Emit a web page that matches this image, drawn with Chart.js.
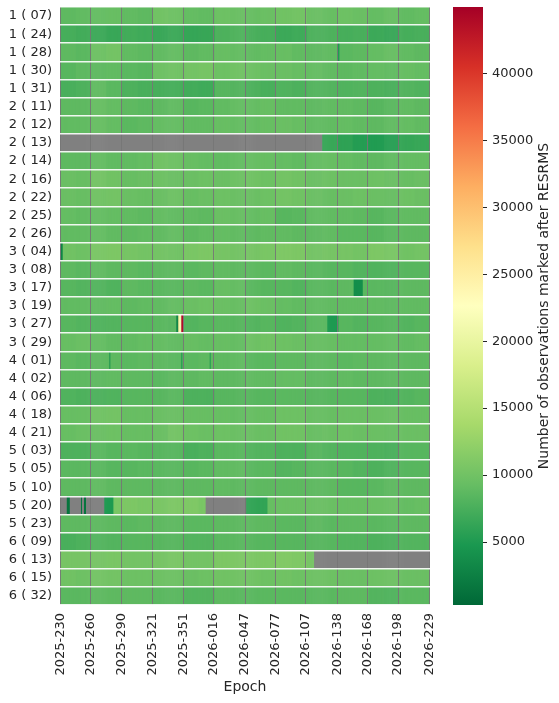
<!DOCTYPE html>
<html>
<head>
<meta charset="utf-8">
<script src="https://cdn.jsdelivr.net/npm/chart.js@4.4.1/dist/chart.umd.min.js"></script>
<style>
  html, body { margin: 0; padding: 0; background: #fff; }
  #wrap { position: relative; width: 559px; height: 703px; }
  #heat { position: absolute; left: 0; top: 0; }
  #bar { position: absolute; left: 440px; top: 0; }
</style>
</head>
<body>
<div id="wrap">
  <canvas id="heat" width="440" height="703"></canvas>
  <canvas id="bar" width="119" height="703"></canvas>
</div>
<script>
const satellites = [
    '1 ( 07)', '1 ( 24)', '1 ( 28)', '1 ( 30)', '1 ( 31)',
    '2 ( 11)', '2 ( 12)', '2 ( 13)', '2 ( 14)', '2 ( 16)', '2 ( 22)', '2 ( 25)', '2 ( 26)',
    '3 ( 04)', '3 ( 08)', '3 ( 17)', '3 ( 19)', '3 ( 27)', '3 ( 29)',
    '4 ( 01)', '4 ( 02)', '4 ( 06)', '4 ( 18)', '4 ( 21)',
    '5 ( 03)', '5 ( 05)', '5 ( 10)', '5 ( 20)', '5 ( 23)',
    '6 ( 09)', '6 ( 13)', '6 ( 15)', '6 ( 32)'
];
const dayCount = 365; // 2025-230 .. 2026-229
const epochTickDays = [0, 30, 60, 91, 121, 151, 182, 212, 242, 273, 303, 333, 364];
const epochTickLabels = ['2025-230', '2025-260', '2025-290', '2025-321', '2025-351', '2026-016',
    '2026-047', '2026-077', '2026-107', '2026-138', '2026-168', '2026-198', '2026-229'];
const colorbarMin = 300;
const colorbarMax = 44950;
const colorbarTicks = [5000, 10000, 15000, 20000, 25000, 30000, 35000, 40000];
const colorbarLabel = 'Number of observations marked after RESRMS';

// observations per day, read as one level per ~15 day block (24 blocks per satellite)
const blockLevels = [
    [8800, 9000, 9200, 9400, 9000, 8800, 10000, 9800, 9200, 9000, 9800, 9600, 9400, 9600, 10000, 10200, 9600, 9400, 9800, 9600, 9200, 9400, 9000, 9200], // 1(07)
    [7400, 7200, 6800, 6600, 7200, 7000, 6600, 6800, 6400, 6500, 7800, 8000, 7600, 7400, 6800, 7000, 7800, 7800, 7400, 7600, 6800, 6600, 7400, 7600], // 1(24)
    [8800, 8600, 9800, 10200, 9000, 8800, 9000, 9200, 8800, 9000, 9400, 9200, 9000, 9200, 9400, 9000, 8800, 9000, 8600, 8800, 9200, 9400, 9000, 8800], // 1(28)
    [8400, 8800, 8800, 9000, 8600, 8400, 9800, 10000, 10200, 10400, 9800, 10000, 9800, 9600, 9600, 9400, 9200, 9000, 8800, 9000, 9200, 9000, 9400, 9200], // 1(30)
    [7600, 7800, 9000, 8600, 7800, 7600, 7400, 7400, 7200, 7000, 8400, 8200, 7800, 7600, 8000, 7800, 8200, 8200, 8000, 8200, 7800, 7600, 8200, 8000], // 1(31)
    [8800, 8800, 9400, 9200, 8800, 8600, 8800, 9000, 8400, 8600, 9000, 9200, 9200, 9400, 9000, 9000, 8800, 9000, 9000, 8800, 8400, 8600, 9000, 8800], // 2(11)
    [9000, 9000, 9400, 9200, 8600, 8800, 9200, 9200, 9000, 9000, 9400, 9200, 9200, 9400, 9600, 9400, 9000, 9000, 9200, 9000, 8800, 9000, 9200, 9000], // 2(12)
    [null, null, null, null, null, null, null, null, null, null, null, null, null, null, null, null, null, 6600, 6000, 5400, 5200, 5600, 6400, 6600], // 2(13)
    [8800, 8800, 9200, 9000, 9000, 9200, 10000, 9800, 9400, 9200, 9000, 9200, 9400, 9400, 9200, 9000, 9200, 9400, 9200, 9000, 8800, 9000, 9200, 9200], // 2(14)
    [9600, 9400, 10200, 10000, 9400, 9600, 9800, 9600, 9600, 9800, 9600, 9800, 10000, 9800, 10200, 10000, 9600, 9800, 9600, 9600, 9800, 9600, 9400, 9600], // 2(16)
    [9600, 9400, 10000, 10200, 9600, 9400, 9600, 9800, 9400, 9600, 9800, 9600, 9600, 9800, 10200, 10000, 9600, 9400, 9600, 9800, 9600, 9400, 9800, 9600], // 2(22)
    [9200, 9000, 9200, 9200, 9000, 8800, 9200, 9000, 9000, 8800, 9600, 9400, 9200, 9400, 8400, 8600, 9000, 9000, 9000, 8800, 8400, 8600, 9000, 9000], // 2(25)
    [9000, 9000, 9200, 9000, 8800, 9000, 9000, 9200, 8800, 9000, 9200, 9000, 8800, 9000, 9000, 8800, 8800, 9000, 8600, 8600, 8400, 8600, 8800, 8800], // 2(26)
    [10000, 9800, 10600, 10800, 10400, 10200, 10200, 10000, 10600, 10800, 10400, 10200, 10400, 10600, 11000, 10800, 10200, 10400, 10400, 10200, 10800, 10600, 10000, 10200], // 3(04)
    [8800, 8600, 9000, 8800, 8800, 8600, 8800, 8800, 8600, 8800, 9000, 8800, 8800, 8600, 9000, 8800, 8600, 8400, 8400, 8200, 8000, 8000, 8400, 8400], // 3(08)
    [8400, 8200, 8200, 8000, 8800, 8600, 8600, 8600, 8800, 8600, 9400, 9200, 8600, 8400, 8400, 8200, 8600, 8600, 8800, 8600, 8600, 8400, 8800, 8800], // 3(17)
    [9000, 9000, 9000, 9200, 8800, 9000, 9000, 9200, 9600, 9800, 9600, 9400, 9800, 9600, 9200, 9000, 9000, 9000, 9000, 9000, 9000, 8800, 9000, 9000], // 3(19)
    [8400, 8200, 8000, 8200, 8400, 8400, 8600, 8400, 8200, 8400, 8600, 8400, 8200, 8400, 8000, 8200, 8600, 8600, 8400, 8200, 8400, 8400, 8200, 8400], // 3(27)
    [9400, 9600, 9200, 9000, 9000, 9200, 9200, 9000, 9400, 9200, 9400, 9200, 9800, 10000, 9800, 9600, 9400, 9400, 9200, 9200, 9200, 9200, 9000, 9200], // 3(29)
    [8800, 8600, 8800, 8800, 8600, 8800, 8800, 8600, 8600, 8800, 8800, 9000, 8600, 8600, 8800, 8800, 8800, 8800, 8600, 8800, 8800, 8800, 8800, 8800], // 4(01)
    [8800, 8800, 8800, 9000, 8800, 8800, 8600, 8800, 8800, 9000, 8800, 8800, 9000, 9000, 9200, 9200, 8800, 8800, 9000, 8800, 8800, 8800, 8800, 8800], // 4(02)
    [8000, 7800, 7800, 8000, 8400, 8400, 8400, 8600, 7800, 7800, 8400, 8400, 8400, 8400, 8600, 8600, 8400, 8400, 8400, 8400, 7800, 7600, 8200, 8400], // 4(06)
    [9400, 9400, 10000, 10200, 9400, 9400, 9600, 9600, 9400, 9400, 9400, 9200, 9400, 9400, 9800, 9800, 9400, 9400, 9600, 9600, 9600, 9600, 9400, 9400], // 4(18)
    [9400, 9600, 9600, 9800, 9400, 9400, 9600, 10200, 9800, 9600, 9800, 9600, 9600, 9600, 10000, 10000, 9400, 9600, 9800, 9600, 9600, 9400, 9600, 9600], // 4(21)
    [7800, 7800, 8600, 8400, 8600, 8400, 8400, 8400, 7600, 7800, 8600, 8600, 8200, 8200, 7800, 7800, 8400, 8200, 8000, 8000, 7800, 7600, 8400, 8400], // 5(03)
    [8600, 8600, 8600, 8400, 8400, 8600, 8600, 8600, 8400, 8600, 9000, 9000, 8600, 8600, 8200, 8400, 8600, 8600, 8400, 8200, 7800, 8000, 8400, 8400], // 5(05)
    [8800, 8800, 9000, 8800, 8800, 8800, 8800, 8800, 8800, 8800, 9000, 8800, 8800, 8800, 8800, 8800, 8800, 8800, 8400, 8400, 8600, 8800, 8800, 8800], // 5(10)
    [null, null, null, 10600, 10800, 10600, 10600, 10800, 11000, 10600, null, null, 9400, 9400, 9600, 9600, 9600, 9600, 9400, 9400, 9600, 9600, 9200, 9400], // 5(20)
    [8800, 8800, 8800, 8800, 8600, 8800, 8800, 8800, 8600, 8600, 8800, 8800, 8800, 8800, 8600, 8600, 8800, 8600, 8800, 8800, 8600, 8600, 8800, 8800], // 5(23)
    [7600, 7800, 8200, 8200, 8400, 8400, 8400, 8400, 8200, 8200, 8600, 8600, 8400, 8400, 8400, 8400, 8400, 8400, 8200, 8200, 7800, 7800, 8200, 8200], // 6(09)
    [10400, 10400, 10400, 10600, 10200, 10200, 10400, 10600, 10200, 10200, 10800, 10800, 10800, 10800, 11200, 11000, 10400, null, null, null, null, null, null, null], // 6(13)
    [10000, 9800, 10200, 10200, 9800, 9800, 9800, 9800, 9600, 9800, 10000, 10000, 10000, 9800, 10000, 9800, 9800, 9800, 9600, 9600, 9800, 9800, 9600, 9600], // 6(15)
    [8600, 8600, 8800, 8800, 8800, 8800, 8600, 8600, 8200, 8200, 8800, 8600, 8600, 8600, 8600, 8600, 8600, 8600, 8800, 8800, 8200, 8000, 8600, 8600]  // 6(32)
];

// days without data: [satellite, first day, last day]
const gapDays = [
    ['3 ( 04)', 0, 0],
    ['5 ( 20)', 0, 6], ['5 ( 20)', 10, 20], ['5 ( 20)', 22, 23], ['5 ( 20)', 26, 43], ['5 ( 20)', 144, 183],
    ['6 ( 13)', 251, 364]
];
// single days / short runs that stand out: [satellite, first day, last day, value]
const peakDays = [
    ['1 ( 28)', 274, 275, 5200],
    ['3 ( 04)', 1, 2, 3000],
    ['3 ( 17)', 290, 298, 3800],
    ['3 ( 27)', 115, 116, 3000], ['3 ( 27)', 117, 117, 26000], ['3 ( 27)', 118, 119, 21500],
    ['3 ( 27)', 120, 120, 44950], ['3 ( 27)', 121, 121, 43500], ['3 ( 27)', 264, 274, 5000],
    ['4 ( 01)', 49, 49, 4200], ['4 ( 01)', 120, 120, 4500], ['4 ( 01)', 148, 148, 5000],
    ['5 ( 20)', 7, 9, 1500], ['5 ( 20)', 21, 21, 1500], ['5 ( 20)', 24, 25, 1500],
    ['5 ( 20)', 44, 52, 5000], ['5 ( 20)', 184, 204, 6200]
];

// RdYlGn reversed
const rdylgnR = [[0, 104, 55], [26, 152, 80], [102, 189, 99], [166, 217, 106], [217, 239, 139],
    [255, 255, 191], [254, 224, 139], [253, 174, 97], [244, 109, 67], [215, 48, 39], [165, 0, 38]];

function cellColor(v) {
    if (v === null || v === undefined) return '#808080';
    let t = (v - colorbarMin) / (colorbarMax - colorbarMin);
    t = Math.min(1, Math.max(0, t)) * 10;
    const i = Math.min(9, Math.floor(t));
    const f = t - i;
    const a = rdylgnR[i], b = rdylgnR[i + 1];
    const c = a.map((x, k) => Math.round(x + (b[k] - x) * f));
    return `rgb(${c[0]},${c[1]},${c[2]})`;
}

const cells = [];
satellites.forEach((name, r) => {
    for (let d = 0; d < dayCount; d++) {
        const level = blockLevels[r][Math.floor(d * 24 / dayCount)];
        cells.push({ x: [d, d + 1], y: name, v: level });
    }
});
gapDays.forEach(([name, from, to]) => {
    const r = satellites.indexOf(name);
    for (let d = from; d <= to; d++) cells[r * dayCount + d].v = null;
});
peakDays.forEach(([name, from, to, value]) => {
    const r = satellites.indexOf(name);
    for (let d = from; d <= to; d++) cells[r * dayCount + d].v = value;
});

const tickFont = { family: 'DejaVu Sans', size: 13 };
const labelFont = { family: 'DejaVu Sans', size: 14 };
const textColor = '#262626';

new Chart(document.getElementById('heat'), {
    type: 'bar',
    data: {
        labels: satellites,
        datasets: [{
            data: cells,
            backgroundColor: ctx => cellColor(ctx.raw ? ctx.raw.v : null),
            borderWidth: 0,
            barPercentage: 1,
            categoryPercentage: 1
        }]
    },
    options: {
        indexAxis: 'y',
        responsive: false,
        animation: false,
        events: [],
        layout: { padding: { top: 7, right: 10, bottom: 3, left: 0 } },
        plugins: {
            legend: { display: false },
            tooltip: { enabled: false }
        },
        scales: {
            x: {
                type: 'linear',
                min: 0,
                max: dayCount,
                afterBuildTicks: scale => {
                    scale.ticks = epochTickDays.map(d => ({ value: d + 0.5 }));
                },
                afterFit: scale => {
                    scale.height = 95;
                    scale.paddingLeft = 0;
                    scale.paddingRight = 0;
                },
                ticks: {
                    autoSkip: false,
                    minRotation: 90,
                    maxRotation: 90,
                    padding: 8,
                    color: textColor,
                    font: tickFont,
                    callback: (value, index) => epochTickLabels[index]
                },
                grid: { z: 1, color: 'rgba(118,118,118,0.9)', lineWidth: 1, drawTicks: false },
                border: { display: false },
                title: { display: true, text: 'Epoch', color: textColor, font: labelFont, padding: { top: 4, bottom: 4 } }
            },
            y: {
                type: 'category',
                afterFit: scale => {
                    scale.width = 60;
                    scale.paddingTop = 0;
                    scale.paddingBottom = 0;
                },
                ticks: { autoSkip: false, padding: 8, color: textColor, font: tickFont },
                grid: { z: 2, color: 'rgba(255,255,255,0.9)', lineWidth: 1.5, drawTicks: false, offset: true },
                border: { display: false }
            }
        }
    }
});

const colorbarTitle = {
    id: 'colorbarTitle',
    afterDraw(chart) {
        const { ctx, chartArea } = chart;
        ctx.save();
        ctx.translate(104, (chartArea.top + chartArea.bottom) / 2);
        ctx.rotate(-Math.PI / 2);
        ctx.font = '14px "DejaVu Sans"';
        ctx.fillStyle = textColor;
        ctx.textAlign = 'center';
        ctx.textBaseline = 'middle';
        ctx.fillText(colorbarLabel, 0, 0);
        ctx.restore();
    }
};

new Chart(document.getElementById('bar'), {
    type: 'bar',
    data: {
        labels: [''],
        datasets: [{
            data: [[colorbarMin, colorbarMax]],
            backgroundColor: ctx => {
                const area = ctx.chart.chartArea;
                if (!area) return null;
                const g = ctx.chart.ctx.createLinearGradient(0, area.bottom, 0, area.top);
                rdylgnR.forEach((c, i) => g.addColorStop(i / 10, `rgb(${c[0]},${c[1]},${c[2]})`));
                return g;
            },
            borderWidth: 0,
            barPercentage: 1,
            categoryPercentage: 1
        }]
    },
    options: {
        responsive: false,
        animation: false,
        events: [],
        layout: { padding: { top: 7, right: 0, bottom: 98, left: 13 } },
        plugins: {
            legend: { display: false },
            tooltip: { enabled: false }
        },
        scales: {
            x: { display: false },
            y: {
                position: 'right',
                min: colorbarMin,
                max: colorbarMax,
                afterBuildTicks: scale => {
                    scale.ticks = colorbarTicks.map(v => ({ value: v }));
                },
                afterFit: scale => {
                    scale.width = 76;
                    scale.paddingTop = 0;
                    scale.paddingBottom = 0;
                },
                ticks: { padding: 5, color: textColor, font: tickFont, callback: v => String(v) },
                grid: { drawOnChartArea: false, drawTicks: true, tickLength: 4, color: textColor, lineWidth: 1 },
                border: { display: false }
            }
        }
    },
    plugins: [colorbarTitle]
});
</script>
</body>
</html>
